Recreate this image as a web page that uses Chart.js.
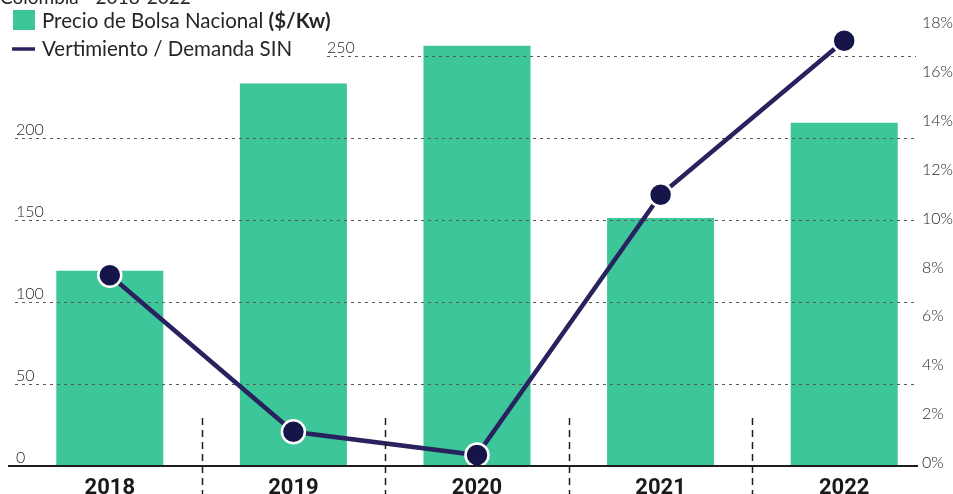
<!DOCTYPE html>
<html>
<head>
<meta charset="utf-8">
<script src="https://cdn.jsdelivr.net/npm/chart.js@4.4.1/dist/chart.umd.min.js"></script>
<style>
html,body{margin:0;padding:0;background:#fff}
#contenedorGrafica{width:953px;height:494px}
</style>
</head>
<body>
<div id="contenedorGrafica"><canvas id="graficaBolsa"></canvas></div>
<script>
// datos
var anios = ['2018', '2019', '2020', '2021', '2022'];
var precioBolsa = [119, 233, 256, 151, 209];      // $/Kw
var vertimiento = [7.8, 1.4, 0.45, 11.1, 17.4];   // % de la demanda SIN
var ticksPrecio = [0, 50, 100, 150, 200, 250];
var ticksPorcentaje = [0, 2, 4, 6, 8, 10, 12, 14, 16, 18];

var VERDE = '#3dc699';
var MORADO = '#28225e';
var TEXTO = '#262626';

var decoracion = {
    id: 'decoracion',
    afterDatasetDraw: function (chart, args) {
        // lineas punteadas encima de las barras
        if (args.index !== 0) return;
        var ctx = chart.ctx;
        var y = chart.scales.yPrecio;
        ctx.save();
        ctx.strokeStyle = '#5a5a5a';
        ctx.lineWidth = 1;
        ctx.setLineDash([3, 4]);
        ticksPrecio.forEach(function (v) {
            if (v === 0) return;
            var py = Math.round(y.getPixelForValue(v)) + 0.5;
            var x0 = v === 250 ? 327 : 15;
            ctx.beginPath();
            ctx.moveTo(x0, py);
            ctx.lineTo(916, py);
            ctx.stroke();
        });
        ctx.restore();
    },
    afterDraw: function (chart) {
        var ctx = chart.ctx;
        var x = chart.scales.x;
        var yP = chart.scales.yPrecio;
        var yR = chart.scales.yPct;
        var base = yP.getPixelForValue(0);
        ctx.save();

        // eje base
        ctx.strokeStyle = '#1e1e1e';
        ctx.lineWidth = 2;
        ctx.beginPath();
        ctx.moveTo(8, base);
        ctx.lineTo(918, base);
        ctx.stroke();

        // separadores entre anios
        ctx.lineWidth = 1.5;
        ctx.setLineDash([7, 5]);
        for (var i = 0; i < anios.length - 1; i++) {
            var mx = Math.round((x.getPixelForValue(i) + x.getPixelForValue(i + 1)) / 2) + 0.5;
            ctx.beginPath();
            ctx.moveTo(mx, 418);
            ctx.lineTo(mx, 494);
            ctx.stroke();
        }
        ctx.setLineDash([]);

        // etiquetas eje izquierdo
        ctx.fillStyle = TEXTO;
        ctx.font = '300 16px Lato';
        ctx.textBaseline = 'middle';
        ctx.textAlign = 'left';
        ticksPrecio.forEach(function (v) {
            var py = yP.getPixelForValue(v) - 8;
            ctx.fillText(String(v), v === 250 ? 327 : 16, py);
        });

        // etiquetas eje derecho
        ticksPorcentaje.forEach(function (v) {
            ctx.fillText(v + '%', 922, yR.getPixelForValue(v) - 3);
        });

        // titulo cortado arriba
        ctx.font = '400 19px Lato';
        ctx.textBaseline = 'alphabetic';
        ctx.fillText('Colombia - 2018-2022', 0, 4);

        // leyenda
        ctx.fillStyle = VERDE;
        ctx.fillRect(13, 10, 22, 20);
        ctx.fillStyle = TEXTO;
        ctx.textBaseline = 'middle';
        ctx.font = '400 20.5px Lato';
        var t1 = 'Precio de Bolsa Nacional ';
        ctx.fillText(t1, 42, 21);
        var w1 = ctx.measureText(t1).width;
        ctx.font = '700 20.5px Lato';
        ctx.fillText('($/Kw)', 42 + w1, 21);

        ctx.strokeStyle = MORADO;
        ctx.lineWidth = 3.5;
        ctx.beginPath();
        ctx.moveTo(12, 49);
        ctx.lineTo(35, 49);
        ctx.stroke();
        ctx.font = '400 20.5px Lato';
        ctx.fillText('Vertimiento / Demanda SIN', 42, 49);

        ctx.restore();
    }
};

var canvas = document.getElementById('graficaBolsa').getContext('2d');
var grafica = new Chart(canvas, {
    type: 'bar',
    data: {
        labels: anios,
        datasets: [{
            type: 'bar',
            label: 'Precio de Bolsa Nacional ($/Kw)',
            data: precioBolsa,
            yAxisID: 'yPrecio',
            backgroundColor: VERDE,
            barPercentage: 0.583,
            categoryPercentage: 1,
            order: 2
        }, {
            type: 'line',
            label: 'Vertimiento / Demanda SIN',
            data: vertimiento,
            yAxisID: 'yPct',
            borderColor: MORADO,
            borderWidth: 4.5,
            tension: 0,
            pointRadius: 11.5,
            pointBackgroundColor: '#16154a',
            pointBorderColor: '#ffffff',
            pointBorderWidth: 2.5,
            clip: false,
            order: 1
        }]
    },
    options: {
        responsive: true,
        maintainAspectRatio: false,
        animation: false,
        layout: {padding: {left: 18, right: 17, top: 26, bottom: 0}},
        plugins: {
            legend: {display: false},
            tooltip: {enabled: false}
        },
        scales: {
            x: {
                grid: {display: false},
                border: {display: false},
                ticks: {
                    color: '#1a1a1a',
                    font: {family: 'Roboto', weight: 'bold', size: 22, lineHeight: 1},
                    padding: 3
                },
                afterFit: function (s) { s.height = 28; }
            },
            yPrecio: {display: false, position: 'left', min: 0, max: 268},
            yPct: {display: false, position: 'right', min: 0, max: 18}
        }
    },
    plugins: [decoracion]
});
</script>
</body>
</html>
